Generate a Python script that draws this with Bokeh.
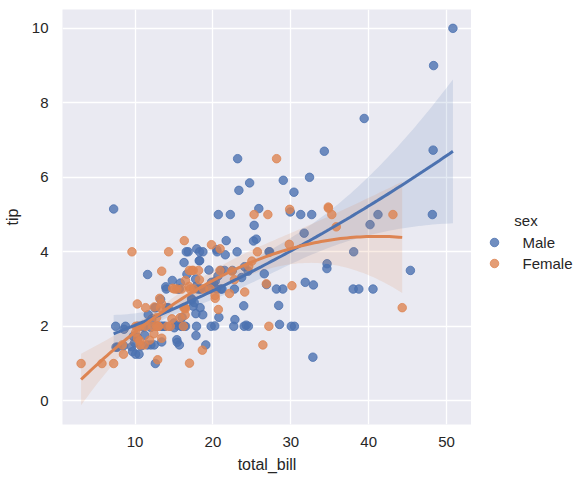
import numpy as np
from bokeh.plotting import figure
from bokeh.layouts import row
from bokeh.models import ColumnDataSource, FixedTicker, Range1d
from bokeh.core.properties import value
from bokeh.embed import file_html
from bokeh.resources import INLINE

# Restaurant tips: bill total, tip, and the payer's sex
total_bill = [
    16.99, 10.34, 21.01, 23.68, 24.59, 25.29, 8.77, 26.88, 15.04, 14.78,
    10.27, 35.26, 15.42, 18.43, 14.83, 21.58, 10.33, 16.29, 16.97, 20.65,
    17.92, 20.29, 15.77, 39.42, 19.82, 17.81, 13.37, 12.69, 21.70, 19.65,
    9.55, 18.35, 15.06, 20.69, 17.78, 24.06, 16.31, 16.93, 18.69, 31.27,
    16.04, 17.46, 13.94, 9.68, 30.40, 18.29, 22.23, 32.40, 28.55, 18.04,
    12.54, 10.29, 34.81, 9.94, 25.56, 19.49, 38.01, 26.41, 11.24, 48.27,
    20.29, 13.81, 11.02, 18.29, 17.59, 20.08, 16.45, 3.07, 20.23, 15.01,
    12.02, 17.07, 26.86, 25.28, 14.73, 10.51, 17.92, 27.20, 22.76, 17.29,
    19.44, 16.66, 10.07, 32.68, 15.98, 34.83, 13.03, 18.28, 24.71, 21.16,
    28.97, 22.49, 5.75, 16.32, 22.75, 40.17, 27.28, 12.03, 21.01, 12.46,
    11.35, 15.38, 44.30, 22.42, 20.92, 15.36, 20.49, 25.21, 18.24, 14.31,
    14.00, 7.25, 38.07, 23.95, 25.71, 17.31, 29.93, 10.65, 12.43, 24.08,
    11.69, 13.42, 14.26, 15.95, 12.48, 29.80, 8.52, 14.52, 11.38, 22.82,
    19.08, 20.27, 11.17, 12.26, 18.26, 8.51, 10.33, 14.15, 16.00, 13.16,
    17.47, 34.30, 41.19, 27.05, 16.43, 8.35, 18.64, 11.87, 9.78, 7.51,
    14.07, 13.13, 17.26, 24.55, 19.77, 29.85, 48.17, 25.00, 13.39, 16.49,
    21.50, 12.66, 16.21, 13.81, 17.51, 24.52, 20.76, 31.71, 10.59, 10.63,
    50.81, 15.81, 7.25, 31.85, 16.82, 32.90, 17.89, 14.48, 9.60, 34.63,
    34.65, 23.33, 45.35, 23.17, 40.55, 20.69, 20.90, 30.46, 18.15, 23.10,
    15.69, 19.81, 28.44, 15.48, 16.58, 7.56, 10.34, 43.11, 13.00, 13.51,
    18.71, 12.74, 13.00, 16.40, 20.53, 16.47, 26.59, 38.73, 24.27, 12.76,
    30.06, 25.89, 48.33, 13.27, 28.17, 12.90, 28.15, 11.59, 7.74, 30.14,
    12.16, 13.42, 8.58, 15.98, 13.42, 16.27, 10.09, 20.45, 13.28, 22.12,
    24.01, 15.69, 11.61, 10.77, 15.53, 10.07, 12.60, 32.83, 35.83, 29.03,
    27.18, 22.67, 17.82, 18.78,
]
tip = [
    1.01, 1.66, 3.50, 3.31, 3.61, 4.71, 2.00, 3.12, 1.96, 3.23,
    1.71, 5.00, 1.57, 3.00, 3.02, 3.92, 1.67, 3.71, 3.50, 3.35,
    4.08, 2.75, 2.23, 7.58, 3.18, 2.34, 2.00, 2.00, 4.30, 3.00,
    1.45, 2.50, 3.00, 2.45, 3.27, 3.60, 2.00, 3.07, 2.31, 5.00,
    2.24, 2.54, 3.06, 1.32, 5.60, 3.00, 5.00, 6.00, 2.05, 3.00,
    2.50, 2.60, 5.20, 1.56, 4.34, 3.51, 3.00, 1.50, 1.76, 6.73,
    3.21, 2.00, 1.98, 3.76, 2.64, 3.15, 2.47, 1.00, 2.01, 2.09,
    1.97, 3.00, 3.14, 5.00, 2.20, 1.25, 3.08, 4.00, 3.00, 2.71,
    3.00, 3.40, 1.83, 5.00, 2.03, 5.17, 2.00, 4.00, 5.85, 3.00,
    3.00, 3.50, 1.00, 4.30, 3.25, 4.73, 4.00, 1.50, 3.00, 1.50,
    2.50, 3.00, 2.50, 3.48, 4.08, 1.64, 4.06, 4.29, 3.76, 4.00,
    3.00, 1.00, 4.00, 2.55, 4.00, 3.50, 5.07, 1.50, 1.80, 2.92,
    2.31, 1.68, 2.50, 2.00, 2.52, 4.20, 1.48, 2.00, 2.00, 2.18,
    1.50, 2.83, 1.50, 2.00, 3.25, 1.25, 2.00, 2.00, 2.00, 2.75,
    3.50, 6.70, 5.00, 5.00, 2.30, 1.50, 1.36, 1.63, 1.73, 2.00,
    2.50, 2.00, 2.74, 2.00, 2.00, 5.14, 5.00, 3.75, 2.61, 2.00,
    3.50, 2.50, 2.00, 2.00, 3.00, 3.48, 2.24, 4.50, 1.61, 2.00,
    10.00, 3.16, 5.15, 3.18, 4.00, 3.11, 2.00, 2.00, 4.00, 3.55,
    3.68, 5.65, 3.50, 6.50, 3.00, 5.00, 3.50, 2.00, 3.50, 4.00,
    1.50, 4.19, 2.56, 2.02, 4.00, 1.44, 2.00, 5.00, 2.00, 2.00,
    4.00, 2.01, 2.00, 2.50, 4.00, 3.23, 3.41, 3.00, 2.03, 2.23,
    2.00, 5.16, 9.00, 2.50, 6.50, 1.10, 3.00, 1.50, 1.44, 3.09,
    2.20, 3.48, 1.92, 3.00, 1.58, 2.50, 2.00, 3.00, 2.72, 2.88,
    2.00, 3.00, 3.39, 1.47, 3.00, 1.25, 1.00, 1.17, 4.67, 5.92,
    2.00, 2.00, 1.75, 3.00,
]
M, F = "Male", "Female"
sex = [
    F, M, M, M, F, M, M, M, M, M,
    M, F, M, M, F, M, F, M, F, M,
    M, F, F, M, M, M, M, M, M, F,
    M, M, F, F, M, M, M, F, M, M,
    M, M, M, M, M, M, M, M, M, M,
    M, F, F, M, M, M, M, F, M, M,
    M, M, M, M, M, M, F, F, M, M,
    M, F, F, F, F, M, M, M, M, M,
    M, M, F, M, M, F, M, M, M, M,
    M, M, F, F, F, M, M, M, M, M,
    F, F, F, F, F, M, M, M, M, F,
    M, F, M, M, F, F, M, F, F, F,
    M, F, M, M, F, F, M, F, F, M,
    M, F, F, F, F, F, F, F, M, F,
    F, M, M, F, F, F, F, F, M, M,
    M, M, M, M, M, F, M, F, F, M,
    M, M, F, M, F, M, M, M, F, F,
    M, M, M, M, M, M, M, M, F, M,
    M, M, M, M, M, M, F, M, F, M,
    M, F, M, M, M, M, M, F, F, M,
    M, F, F, F, M, F, M, M, M, F,
    M, M, M, F, F, F, M, M, M, F,
    M, F, M, F, M, F, F, M, M, F,
    M, M, M, M, M, M, M, M, F, M,
    F, M, M, F,
]

hue_levels = ["Male", "Female"]
palette = {"Male": "#4C72B0", "Female": "#DD8452"}

x_ticks = [10, 20, 30, 40, 50]
y_ticks = [0, 2, 4, 6, 8, 10]


def quadratic_fit(x, y, n=100, z=1.96):
    """Second-order least squares fit with a robust 95% confidence band."""
    X = np.column_stack([x ** 2, x, np.ones_like(x)])
    beta, *_ = np.linalg.lstsq(X, y, rcond=None)
    resid = y - X @ beta
    xtx_inv = np.linalg.inv(X.T @ X)
    meat = X.T @ (X * (resid ** 2)[:, None])
    k = len(x)
    cov = xtx_inv @ meat @ xtx_inv * k / (k - 3)
    grid = np.linspace(x.min(), x.max(), n)
    G = np.column_stack([grid ** 2, grid, np.ones_like(grid)])
    fit = G @ beta
    se = np.sqrt(np.einsum("ij,jk,ik->i", G, cov, G))
    return grid, fit, fit - z * se, fit + z * se


tb = np.array(total_bill, dtype=float)
tp = np.array(tip, dtype=float)
sx = np.array(sex)

FONT = "Liberation Sans"
TEXT = "#262626"
MARKER_SIZE = 8.5
BORDER_TOP, BORDER_BOTTOM = 9, 59
HEIGHT = 483

# ---- main scatter / regression panel ----
xpad = 0.05 * (tb.max() - tb.min())
p = figure(
    width=471, height=HEIGHT,
    x_range=Range1d(tb.min() - xpad, tb.max() + xpad),
    y_range=Range1d(-0.637, 10.506),
    output_backend="svg", toolbar_location=None,
    background_fill_color="#EAEAF2", border_fill_color="white",
    min_border_left=62, min_border_right=0,
    min_border_top=BORDER_TOP, min_border_bottom=BORDER_BOTTOM,
)
p.outline_line_color = None

for ax in (p.xaxis[0], p.yaxis[0]):
    ax.axis_line_color = None
    ax.major_tick_line_color = None
    ax.minor_tick_line_color = None
    ax.major_tick_out = 0
    ax.major_tick_in = 0
    ax.minor_tick_out = 0
    ax.major_label_text_font = FONT
    ax.major_label_text_font_size = "15px"
    ax.major_label_text_color = TEXT
    ax.axis_label_text_font = FONT
    ax.axis_label_text_font_size = "16px"
    ax.axis_label_text_font_style = "normal"
    ax.axis_label_text_color = TEXT

p.xaxis.ticker = FixedTicker(ticks=x_ticks)
p.yaxis.ticker = FixedTicker(ticks=y_ticks)
p.xaxis.axis_label = "total_bill"
p.yaxis.axis_label = "tip"
p.xaxis.major_label_standoff = 12
p.yaxis.major_label_standoff = 14
p.xaxis.axis_label_standoff = 6
p.yaxis.axis_label_standoff = 8

for g in (p.xgrid[0], p.ygrid[0]):
    g.grid_line_color = "white"
    g.grid_line_width = 1.3

fits = {}
for level in hue_levels:
    mask = sx == level
    color = palette[level]
    src = ColumnDataSource(dict(x=tb[mask], y=tp[mask]))
    p.scatter(
        "x", "y", source=src, size=MARKER_SIZE, fill_color=color, fill_alpha=0.8,
        line_color=color, line_alpha=0.8, line_width=1,
    )
    grid, fit, lo, hi = quadratic_fit(tb[mask], tp[mask])
    fits[level] = (grid, fit)
    p.varea(x=grid, y1=lo, y2=hi, fill_color=color, fill_alpha=0.15)

for level in hue_levels:
    grid, fit = fits[level]
    p.line(grid, fit, line_color=palette[level], line_width=3)

# ---- legend panel: its frame is aligned with the main frame, so the
# y range is expressed in page pixels between the two frame edges ----
lg_w = 114
lg = figure(
    width=lg_w, height=HEIGHT,
    x_range=Range1d(0, lg_w), y_range=Range1d(HEIGHT - BORDER_BOTTOM, BORDER_TOP),
    output_backend="svg", toolbar_location=None,
    min_border_left=0, min_border_right=0,
    min_border_top=BORDER_TOP, min_border_bottom=BORDER_BOTTOM,
    border_fill_color="white", background_fill_color="white",
)
lg.outline_line_color = None
lg.axis.visible = False
lg.grid.visible = False

row_y = [242, 263]
lg.scatter(
    x=[23] * len(hue_levels), y=row_y, size=MARKER_SIZE,
    fill_color=[palette[l] for l in hue_levels], fill_alpha=0.8,
    line_color=[palette[l] for l in hue_levels], line_alpha=0.8, line_width=1,
)
lg.text(
    x=[51] * len(hue_levels), y=row_y, text=hue_levels,
    text_font=value(FONT), text_font_size="15px", text_color=TEXT,
    text_align="left", text_baseline="middle",
)
lg.text(
    x=[54.5], y=[220], text=["sex"],
    text_font=value(FONT), text_font_size="15px", text_color=TEXT,
    text_align="center", text_baseline="middle",
)

layout = row(p, lg, spacing=0)
open("out.html", "w").write(file_html(layout, INLINE))
